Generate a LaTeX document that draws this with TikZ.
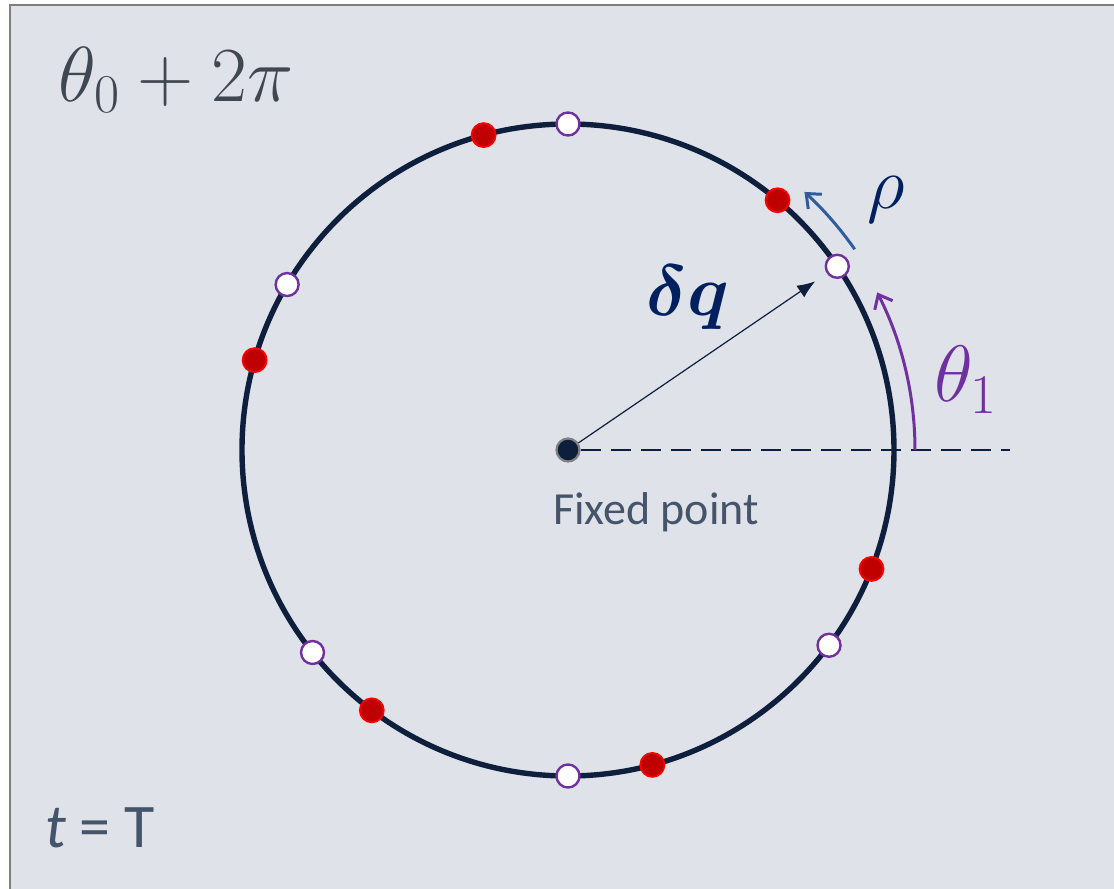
\RequirePackage{fix-cm}
\documentclass[tikz,border=0pt]{standalone}
\usepackage{amsmath,bm}
\usepackage{fontspec}
\setsansfont{Carlito}
\usetikzlibrary{arrows.meta}
\definecolor{bgcol}{HTML}{DFE2E8}
\definecolor{framecol}{HTML}{7F7F7F}
\definecolor{ringcol}{HTML}{0D1F3C}
\definecolor{openpurple}{HTML}{7030A0}
\definecolor{dotred}{HTML}{C00000}
\definecolor{navy}{HTML}{002060}
\definecolor{rhoblue}{HTML}{2E5C9E}
\definecolor{labgray}{HTML}{44546A}
\definecolor{titlegray}{HTML}{3F4852}

\begin{document}
\begin{tikzpicture}[x=0.5pt,y=0.5pt,
  opendot/.style={circle,draw=openpurple,line width=1.2pt,fill=white,inner sep=0pt,minimum size=11.5pt},
  reddot/.style={circle,draw=red,line width=0.9pt,fill=dotred,inner sep=0pt,minimum size=12pt},
  fixdot/.style={circle,draw=gray,line width=1.1pt,fill=ringcol,inner sep=0pt,minimum size=11.5pt}]
\useasboundingbox (-568,-439) rectangle (546,450);
\fill[white] (-568,-439) rectangle (546,450);
\draw[framecol,line width=1pt,fill=bgcol] (-558,-460) rectangle (570,445);

% ring and fixed point
\draw[ringcol,line width=2.7pt] (0,0) circle[radius=326];
\node[fixdot] (fp) at (0,0) {};
\coordinate (dashend) at (442,0);
\draw[ringcol,line width=1pt,dash pattern=on 10pt off 5pt] (fp) -- (dashend);

% points on the ring
\foreach \a [count=\i] in {34.3,90,149.5,218.4,270,323.2}
  \node[opendot] (o\i) at (\a:326) {};
\foreach \a [count=\i] in {50,105,164,233,285,338.6}
  \node[reddot] (r\i) at (\a:326) {};

\draw[ringcol,line width=0.6pt,-{Latex[length=9pt,width=7pt]},shorten >=7pt] (fp) -- (o1);

% angle arrows
\draw[openpurple,line width=1.5pt,-{Straight Barb[length=6pt,width=10pt]}] (0:347) arc[start angle=0,end angle=27,radius=347];
\draw[rhoblue,line width=1.5pt,-{Straight Barb[length=6pt,width=10pt]}] (35:350) arc[start angle=35,end angle=47.5,radius=350];

% labels
\node[navy] (dq) at (120,152) {\fontsize{36}{40}\selectfont$\boldsymbol{\delta q}$};
\node[navy] (rho) at (318,250) {\fontsize{37}{40}\selectfont$\rho$};
\node[openpurple] (th1) at (398,70) {\fontsize{40}{44}\selectfont$\theta_1$};
\node[labgray,font=\sffamily] (fplab) at (88,-62) {\fontsize{23}{26}\selectfont Fixed point};
\node[titlegray] (title) at (-392,370) {\fontsize{39}{44}\selectfont$\theta_0+2\pi$};
\node[labgray,font=\sffamily] (tlab) at (-468,-378) {\fontsize{31}{34}\selectfont\itshape t\upshape{} = T};
\end{tikzpicture}
\end{document}
